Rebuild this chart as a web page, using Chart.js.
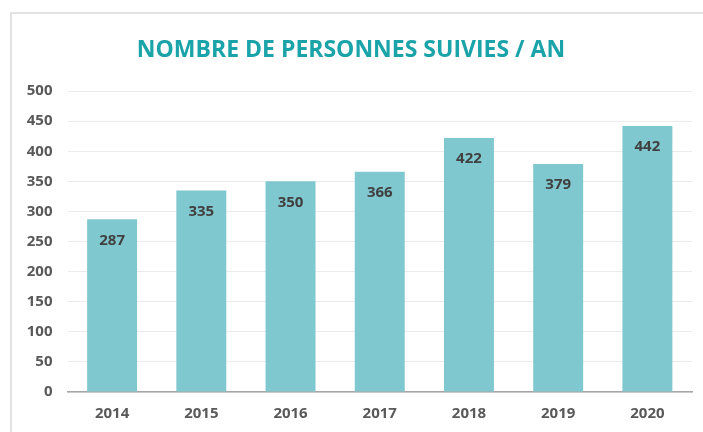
<!DOCTYPE html>
<html>
<head>
<meta charset="utf-8">
<script src="https://cdn.jsdelivr.net/npm/chart.js@4"></script>
<style>
html,body{margin:0;padding:0;background:#fff;width:703px;height:432px;overflow:hidden;}
#frame{position:absolute;left:10px;top:12px;width:720px;height:460px;border-left:2px solid #e2e2e2;border-top:2px solid #e2e2e2;box-sizing:border-box;}
#c{position:absolute;left:0;top:0;}
</style>
</head>
<body>
<div id="frame"></div>
<canvas id="c" width="703" height="432"></canvas>
<script>
const titleText = "NOMBRE DE PERSONNES SUIVIES / AN";
const categories = ["2014","2015","2016","2017","2018","2019","2020"];
const personnes = [287,335,350,366,422,379,442];
const yTicks = [0,50,100,150,200,250,300,350,400,450,500];

const barLabels = {
  id: 'barLabels',
  afterDatasetsDraw(chart) {
    const ctx = chart.ctx;
    const meta = chart.getDatasetMeta(0);
    ctx.save();
    ctx.font = "bold 15px 'Open Sans'";
    ctx.fillStyle = "#404040";
    ctx.textAlign = "center";
    ctx.textBaseline = "middle";
    meta.data.forEach((bar, i) => {
      ctx.fillText(String(personnes[i]), bar.x, bar.y + 21);
    });
    ctx.restore();
  }
};

new Chart(document.getElementById('c'), {
  type: 'bar',
  data: {
    labels: categories,
    datasets: [{
      data: personnes,
      backgroundColor: '#80C8CF',
      borderWidth: 0,
      categoryPercentage: 1,
      barPercentage: 0.56
    }]
  },
  options: {
    responsive: false,
    animation: false,
    layout: { padding: { left: 10, right: 11, top: 0, bottom: 0 } },
    plugins: {
      legend: { display: false },
      tooltip: { enabled: false },
      title: {
        display: true,
        text: titleText,
        color: '#1AA3A8',
        font: { family: "'Open Sans'", size: 23, weight: 'bold', lineHeight: 1.2 },
        padding: { top: 37, bottom: 26.5 }
      }
    },
    scales: {
      x: {
        afterFit: (s) => { s.height = 40; },
        grid: { display: false, drawTicks: false },
        border: { display: true, color: '#A6A6A6', width: 1.5 },
        ticks: { color: '#595959', font: { family: "'Open Sans'", size: 15, weight: 'bold', lineHeight: 1.0 }, padding: 14 }
      },
      y: {
        min: 0, max: 500,
        afterBuildTicks: (s) => { s.ticks = yTicks.map(v => ({ value: v })); },
        afterFit: (s) => { s.width = 57.5; },
        grid: { color: '#EBEBEB', drawTicks: false, lineWidth: 1 },
        border: { display: false },
        ticks: { color: '#595959', font: { family: "'Open Sans'", size: 15, weight: 'bold' }, padding: 15 }
      }
    }
  },
  plugins: [barLabels]
});
</script>
</body>
</html>
